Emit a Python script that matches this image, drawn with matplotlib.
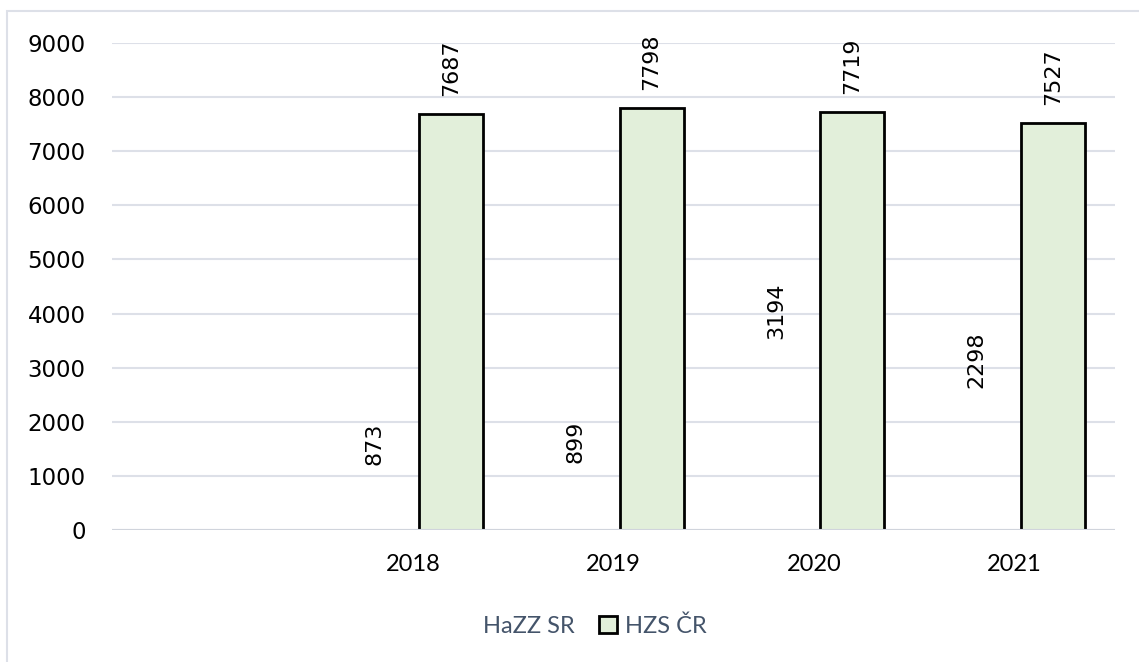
import matplotlib
matplotlib.use("Agg")
import matplotlib.pyplot as plt
from matplotlib import patches
import numpy as np

# data
categories = ["", "2018", "2019", "2020", "2021"]
hazz_sr = [np.nan, 873, 899, 3194, 2298]
hzs_cr = [np.nan, 7687, 7798, 7719, 7527]
series_names = ["HaZZ SR", "HZS ČR"]
y_ticks = list(range(0, 9001, 1000))

W, H = 1139, 662
fig = plt.figure(figsize=(W / 100, H / 100), dpi=100)
ax = fig.add_axes([112 / W, 1 - 530 / H, (1115 - 112) / W, (530 - 43) / H])

x = np.arange(len(categories))
width = 0.32
offset = 0.19

b1 = ax.bar(x - offset, hazz_sr, width, color="none", edgecolor="none", zorder=2)
b2 = ax.bar(x + offset, hzs_cr, width, color="#E2EFDA", edgecolor="black",
            linewidth=2, zorder=2)

for bars, vals in ((b1, hazz_sr), (b2, hzs_cr)):
    labels = ["" if np.isnan(v) else "%d" % v for v in vals]
    ax.bar_label(bars, labels=labels, rotation=90, padding=13,
                 family="DejaVu Sans", fontsize=16, color="black")

ax.set_xlim(-0.5, len(categories) - 0.5)
ax.set_ylim(0, 9000)
ax.set_yticks(y_ticks)
ax.set_yticklabels([str(t) for t in y_ticks], family="DejaVu Sans", fontsize=16.5)
ax.set_xticks(x)
ax.set_xticklabels(categories, family="Lato", fontsize=17)
ax.tick_params(axis="y", length=0, pad=19)
ax.tick_params(axis="x", length=0, pad=17)

ax.yaxis.grid(True, color="#DDE0E8", linewidth=1.5, zorder=0)
ax.set_axisbelow(True)
for s in ax.spines.values():
    s.set_visible(False)
ax.axhline(0, color="#D0D4DC", linewidth=1.5, zorder=3)

# outer frame of the chart area
frame = patches.Rectangle((7 / W, -0.2), 2, 1.2 - 11 / H, transform=fig.transFigure,
                          fill=False, edgecolor="#DDE0E8", linewidth=1.5)
fig.patches.append(frame)

handles = [patches.Patch(facecolor="none", edgecolor="none"),
           patches.Patch(facecolor="#E2EFDA", edgecolor="black", linewidth=2)]
leg = fig.legend(handles, series_names, loc="center", bbox_to_anchor=(582 / W, 1 - 626 / H),
                 ncol=2, frameon=False, handlelength=0.75, handleheight=0.75,
                 handletextpad=0.35, columnspacing=1.0,
                 prop={"family": "Lato", "size": 17})
for t in leg.get_texts():
    t.set_color("#44546A")

fig.savefig("out.png", dpi=100)
